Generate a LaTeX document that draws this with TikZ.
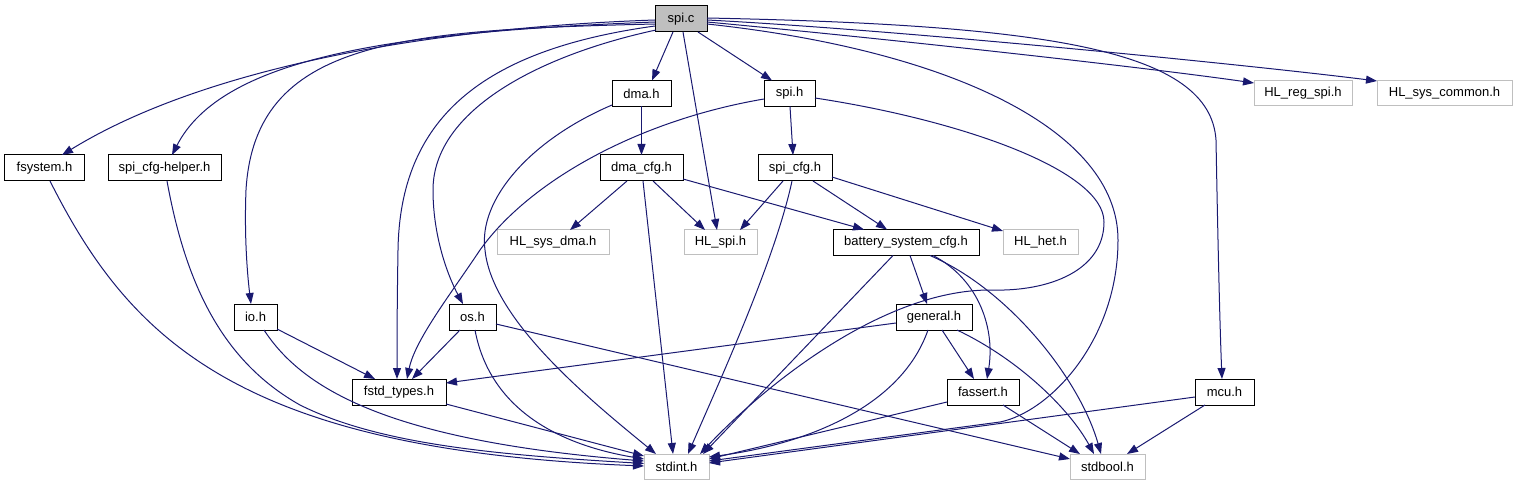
\documentclass[tikz,border=0pt]{standalone}
\usepackage{fontspec}
\setmainfont{Liberation Sans}
\usetikzlibrary{arrows.meta,calc}
\definecolor{edgec}{HTML}{191970}
\definecolor{boxg}{HTML}{BFBFBF}
\begin{document}
\begin{tikzpicture}[x=1bp,y=-1bp,
  base/.style={rectangle, inner sep=0pt, fill=white, font=\fontsize{13bp}{15bp}\selectfont, minimum height=26bp, line width=1bp},
  blk/.style={base, draw=black},
  gry/.style={base, draw=boxg, minimum height=25bp},
  root/.style={blk, fill=boxg},
  edge/.style={draw=edgec, line width=1bp, -{Triangle[length=11bp,width=8bp]}}]
\useasboundingbox (0,0) rectangle (1517,485);
% nodes
\node[root, minimum width=52bp] (spic) at (681,19) {spi.c};
\node[blk, minimum width=59bp] (dmah) at (641.5,93.5) {dma.h};
\node[blk, minimum width=51bp] (spih) at (789.5,93.5) {spi.h};
\node[blk, minimum width=83bp] (dmacfg) at (641.5,168) {dma\_cfg.h};
\node[blk, minimum width=74bp] (spicfg) at (795,168) {spi\_cfg.h};
\node[gry, minimum width=112bp] (hlsysdma) at (553,242.5) {HL\_sys\_dma.h};
\node[gry, minimum width=73bp] (hlspi) at (720.5,242.5) {HL\_spi.h};
\node[blk, minimum width=146bp] (battery) at (906,242.5) {battery\_system\_cfg.h};
\node[gry, minimum width=75bp] (hlhet) at (1040.5,242.5) {HL\_het.h};
\node[gry, minimum width=98bp] (hlregspi) at (1303,93.5) {HL\_reg\_spi.h};
\node[gry, minimum width=135bp] (hlsyscommon) at (1444.5,93.5) {HL\_sys\_common.h};
\node[blk, minimum width=79bp] (fsystem) at (44.5,168) {fsystem.h};
\node[blk, minimum width=113bp] (helper) at (164.5,168) {spi\_cfg-helper.h};
\node[blk, minimum width=43bp] (ioh) at (255.5,317) {io.h};
\node[blk, minimum width=47bp] (osh) at (472.5,317) {os.h};
\node[blk, minimum width=94bp] (fstd) at (399,392) {fstd\_types.h};
\node[blk, minimum width=76bp] (general) at (934,317) {general.h};
\node[blk, minimum width=72bp] (fassert) at (983,392) {fassert.h};
\node[blk, minimum width=59bp] (mcu) at (1224.5,392) {mcu.h};
\node[gry, minimum width=65bp] (stdint) at (676.5,466.5) {stdint.h};
\node[gry, minimum width=75bp] (stdbool) at (1107.5,466.5) {stdbool.h};
% edges from spi.c
\draw[edge] ($(spic)+(-26,1)$) .. controls (420,28) and (200,70) .. ($(fsystem)+(17.5,-13)$);
\draw[edge] ($(spic)+(-26,3)$) .. controls (390,32) and (222,58) .. ($(helper)+(7.5,-13)$);
\draw[edge] ($(spic)+(-26,5)$) .. controls (400,30) and (255,40) .. (246,190) .. controls (244,240) and (248,280) .. ($(ioh)+(-4.5,-13)$);
\draw[edge] ($(spic)+(-26,7)$) .. controls (480,50) and (400,120) .. (398,250) .. controls (397,310) and (397,350) .. ($(fstd)+(-2,-13)$);
\draw[edge] ($(spic)+(-25,11)$) .. controls (540,55) and (433,110) .. (433,190) .. controls (433,240) and (450,280) .. ($(osh)+(-9.5,-13)$);
\draw[edge] ($(spic)+(-8,13)$) -- ($(dmah)+(10.5,-13)$);
\draw[edge] ($(spic)+(2,13)$) -- ($(hlspi)+(-3.5,-12.5)$);
\draw[edge] ($(spic)+(17,13)$) -- ($(spih)+(-17.5,-13)$);
\draw[edge] ($(spic)+(26,3)$) .. controls (900,40) and (1150,68) .. ($(hlregspi)+(-49,-10.5)$);
\draw[edge] ($(spic)+(26,1)$) .. controls (900,30) and (1250,65) .. ($(hlsyscommon)+(-67.5,-12.5)$);
\draw[edge] ($(spic)+(26,-1)$) .. controls (1050,25) and (1210,50) .. (1216,140) .. controls (1218,250) and (1220,330) .. ($(mcu)+(-2.5,-13)$);
\draw[edge] ($(spic)+(26,5)$) .. controls (950,50) and (1118,130) .. (1118,240) .. controls (1118,340) and (1050,412) .. (1000,422) -- ($(stdint)+(32.5,-5.5)$);
% spi.h
\draw[edge] ($(spih)+(0.5,13)$) -- ($(spicfg)+(-2,-13)$);
\draw[edge] ($(spih)+(-25.5,5.5)$) .. controls (640,120) and (530,180) .. (480,250) .. controls (450,295) and (415,340) .. ($(fstd)+(8,-13)$);
\draw[edge] ($(spih)+(25.5,4.5)$) .. controls (960,120) and (1104,170) .. (1104,222) .. controls (1104,270) and (1050,292) .. (990,290) .. controls (880,290) and (760,390) .. ($(stdint)+(23.5,-12.5)$);
% dma.h
\draw[edge] ($(dmah)+(0,13)$) -- ($(dmacfg)+(0,-13)$);
\draw[edge] ($(dmah)+(-29.5,11.5)$) .. controls (530,140) and (478,200) .. (485,250) .. controls (492,320) and (590,400) .. ($(stdint)+(-20.5,-12.5)$);
% dma_cfg.h
\draw[edge] ($(dmacfg)+(-14.5,13)$) -- ($(hlsysdma)+(17,-12.5)$);
\draw[edge] ($(dmacfg)+(11.5,13)$) -- ($(hlspi)+(-15.5,-12.5)$);
\draw[edge] ($(dmacfg)+(41.5,11)$) -- ($(battery)+(-42,-13)$);
\draw[edge] ($(dmacfg)+(1.5,13)$) -- ($(stdint)+(-3.5,-12.5)$);
% spi_cfg.h
\draw[edge] ($(spicfg)+(-12,13)$) -- ($(hlspi)+(19.5,-12.5)$);
\draw[edge] ($(spicfg)+(18,13)$) -- ($(battery)+(-19,-13)$);
\draw[edge] ($(spicfg)+(37,9)$) -- ($(hlhet)+(-37.5,-11.5)$);
\draw[edge] ($(spicfg)+(-3,13)$) .. controls (775,260) and (720,380) .. ($(stdint)+(11.5,-12.5)$);
% battery_system_cfg.h
\draw[edge] ($(battery)+(4,13)$) -- ($(general)+(-7,-13)$);
\draw[edge] ($(battery)+(27,13)$) .. controls (980,280) and (995,330) .. ($(fassert)+(4,-13)$);
\draw[edge] ($(battery)+(-13,13)$) -- ($(stdint)+(26.5,-12.5)$);
\draw[edge] ($(battery)+(24,13)$) .. controls (1010,290) and (1080,380) .. ($(stdbool)+(-6.5,-12.5)$);
% general.h
\draw[edge] ($(general)+(-38,6)$) -- ($(fstd)+(47,-9)$);
\draw[edge] ($(general)+(8,13)$) -- ($(fassert)+(-9,-13)$);
\draw[edge] ($(general)+(-6,13)$) .. controls (900,410) and (800,445) .. ($(stdint)+(32.5,-9.5)$);
\draw[edge] ($(general)+(23,13)$) .. controls (1020,360) and (1070,410) .. ($(stdbool)+(-13.5,-12.5)$);
% fassert.h
\draw[edge] ($(fassert)+(-36,10)$) -- ($(stdint)+(32.5,-7.5)$);
\draw[edge] ($(fassert)+(20,13)$) -- ($(stdbool)+(-27.5,-12.5)$);
% mcu.h
\draw[edge] ($(mcu)+(-29.5,5)$) -- ($(stdint)+(32.5,-3.5)$);
\draw[edge] ($(mcu)+(-19.5,13)$) -- ($(stdbool)+(19.5,-12.5)$);
% os.h
\draw[edge] ($(osh)+(-12.5,13)$) -- ($(fstd)+(13,-13)$);
\draw[edge] ($(osh)+(2.5,13)$) .. controls (490,410) and (560,445) .. ($(stdint)+(-32.5,-7.5)$);
\draw[edge] ($(osh)+(23.5,7)$) -- ($(stdbool)+(-37.5,-7.5)$);
% io.h
\draw[edge] ($(ioh)+(21.5,12)$) -- ($(fstd)+(-24,-13)$);
\draw[edge] ($(ioh)+(8.5,13)$) .. controls (300,385) and (380,440) .. ($(stdint)+(-32.5,-5.5)$);
% fstd_types.h
\draw[edge] ($(fstd)+(47,12)$) -- ($(stdint)+(-32.5,-10.5)$);
% fsystem.h, spi_cfg-helper.h
\draw[edge] ($(fsystem)+(5.5,13)$) .. controls (130,340) and (240,450) .. ($(stdint)+(-32.5,-0.5)$);
\draw[edge] ($(helper)+(2.5,13)$) .. controls (185,280) and (220,360) .. (300,405) .. controls (380,445) and (500,455) .. ($(stdint)+(-32.5,-3)$);
\end{tikzpicture}
\end{document}
